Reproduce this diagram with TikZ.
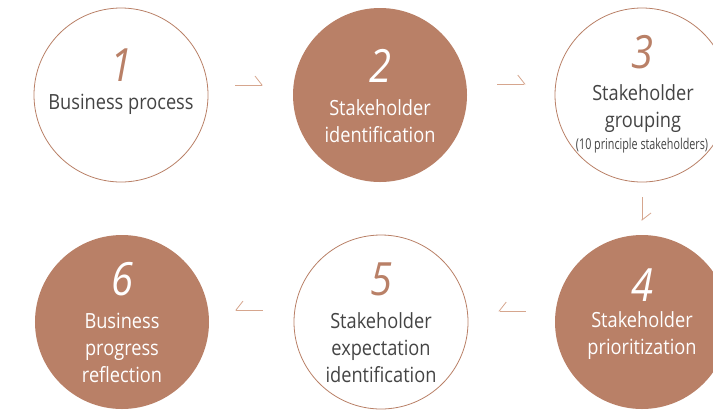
\documentclass[tikz,border=0pt]{standalone}
\usepackage{fontspec}
\setmainfont{Open Sans}[FakeStretch=0.87]
\newfontfamily\condfont{Open Sans}[FakeStretch=0.72]
\usepackage{xcolor}
\usepackage{tikz}
\usetikzlibrary{arrows.meta}

\definecolor{clay}{HTML}{B98067}
\definecolor{claylight}{HTML}{D6A68E}
\definecolor{inkgray}{HTML}{444444}

\tikzset{
	ring/.style={circle, draw=clay, line width=0.8bp, fill=white, minimum size=174bp, inner sep=0pt},
	disc/.style={circle, fill=clay, minimum size=174bp, inner sep=0pt},
	num/.style={font=\fontsize{46}{46}\selectfont\itshape, inner sep=0pt},
	lbl/.style={align=center, font=\fontsize{21}{27}\selectfont, inner sep=0pt},
	flow/.style={draw=claylight, line width=0.8bp, -{Straight Barb[left, length=7bp, width=18bp]}},
	flowback/.style={draw=claylight, line width=0.8bp, -{Straight Barb[right, length=7bp, width=18bp]}},
}

\begin{document}
\begin{tikzpicture}[x=1bp, y=-1bp]
		\useasboundingbox (0,0) rectangle (713,410);
		
		% circles
		\node[ring] (c1) at (121,95) {};
		\node[disc] (c2) at (380,95) {};
		\node[ring] (c3) at (642,95) {};
		\node[disc] (c4) at (642,322) {};
		\node[ring] (c5) at (381,322) {};
		\node[disc] (c6) at (122,322) {};
		
		% numbers
		\node[num, text=clay] (n1) at (121,65) {1};
		\node[num, text=white] (n2) at (380,66) {2};
		\node[num, text=clay] (n3) at (642,52) {3};
		\node[num, text=white] (n4) at (642,285) {4};
		\node[num, text=clay] (n5) at (381,279) {5};
		\node[num, text=white] (n6) at (122,279) {6};
		
		% labels
		\node[lbl, text=inkgray] (t1) at (121,104) {Business process};
		\node[lbl, text=white] (t2) at (380,121) {Stakeholder\\identification};
		\node[lbl, text=inkgray] (t3) at (643,109) {Stakeholder\\grouping};
		\node[text=inkgray, inner sep=0pt, font=\condfont\fontsize{15}{15}\selectfont] (s3) at (642,146) {(10 principle stakeholders)};
		\node[lbl, text=white] (t4) at (642,336) {Stakeholder\\prioritization};
		\node[lbl, text=inkgray] (t5) at (381,348) {Stakeholder\\expectation\\identification};
		\node[lbl, text=white] (t6) at (122,348) {Business\\progress\\reflection};
		
		% steps
		\draw[flow, shorten <=27bp, shorten >=30bp] ([yshift=10bp]c1.east) -- ([yshift=10bp]c2.west);
		\draw[flow, shorten <=30bp, shorten >=29bp] ([yshift=11bp]c2.east) -- ([yshift=11bp]c3.west);
		\draw[flow, shorten <=15bp, shorten >=14bp] (c3.south) -- (c4.north);
		\draw[flowback, shorten <=29bp, shorten >=30bp] ([yshift=11bp]c4.west) -- ([yshift=11bp]c5.east);
		\draw[flowback, shorten <=31bp, shorten >=26bp] ([yshift=12bp]c5.west) -- ([yshift=12bp]c6.east);
	\end{tikzpicture}
\end{document}
